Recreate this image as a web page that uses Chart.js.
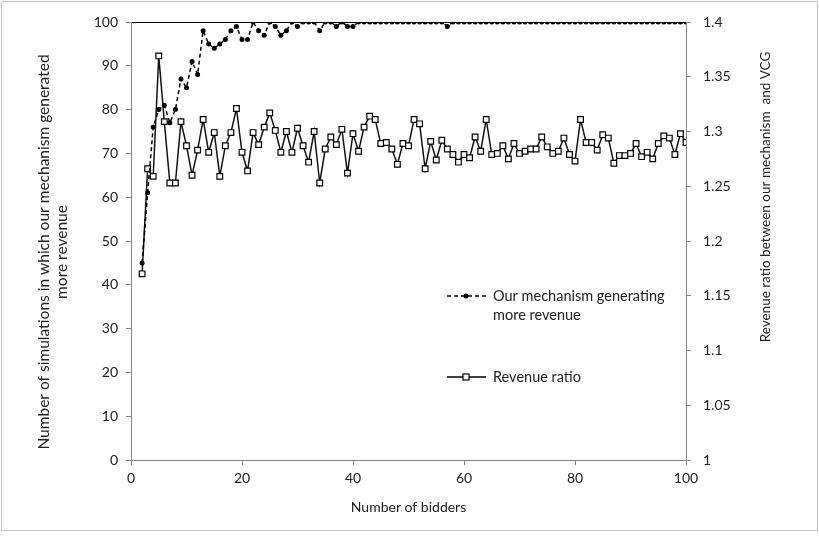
<!DOCTYPE html>
<html>
<head>
<meta charset="utf-8">
<title>Revenue comparison</title>
<script src="https://cdn.jsdelivr.net/npm/chart.js@4.4.0/dist/chart.umd.min.js"></script>
<style>
  html, body { margin: 0; padding: 0; background: #fff; }
  #wrap { width: 819px; height: 538px; }
</style>
</head>
<body>
<div id="wrap"><canvas id="chart" width="819" height="538"></canvas></div>
<script>
// number of bidders (x)
const bidders = [
  2, 3, 4, 5, 6, 7, 8, 9, 10, 11, 12, 13, 14, 15, 16, 17, 18, 19, 20, 21,
  22, 23, 24, 25, 26, 27, 28, 29, 30, 31, 32, 33, 34, 35, 36, 37, 38, 39, 40, 41,
  42, 43, 44, 45, 46, 47, 48, 49, 50, 51, 52, 53, 54, 55, 56, 57, 58, 59, 60, 61,
  62, 63, 64, 65, 66, 67, 68, 69, 70, 71, 72, 73, 74, 75, 76, 77, 78, 79, 80, 81,
  82, 83, 84, 85, 86, 87, 88, 89, 90, 91, 92, 93, 94, 95, 96, 97, 98, 99, 100
];

// simulations (of 100) where our mechanism made more revenue — left axis
const mechanismPct = [
  45, 61, 76, 80, 81, 77, 80, 87, 85, 91, 88, 98, 95, 94, 95, 96, 98, 99, 96, 96,
  100, 98, 97, 100, 99, 97, 98, 100, 99, 100, 100, 100, 98, 100, 100, 99, 100, 99, 99, 100,
  100, 100, 100, 100, 100, 100, 100, 100, 100, 100, 100, 100, 100, 100, 100, 99, 100, 100, 100, 100,
  100, 100, 100, 100, 100, 100, 100, 100, 100, 100, 100, 100, 100, 100, 100, 100, 100, 100, 100, 100,
  100, 100, 100, 100, 100, 100, 100, 100, 100, 100, 100, 100, 100, 100, 100, 100, 100, 100, 100
];

// revenue ratio our mechanism / VCG — right axis
const revenueRatio = [
  1.170, 1.266, 1.259, 1.369, 1.309, 1.253, 1.253, 1.309, 1.287, 1.260,
  1.283, 1.311, 1.281, 1.299, 1.259, 1.287, 1.299, 1.321, 1.281, 1.264,
  1.299, 1.288, 1.304, 1.317, 1.301, 1.281, 1.300, 1.281, 1.303, 1.287,
  1.272, 1.300, 1.253, 1.284, 1.295, 1.288, 1.302, 1.262, 1.298, 1.282,
  1.304, 1.314, 1.311, 1.289, 1.290, 1.284, 1.270, 1.289, 1.287, 1.311,
  1.307, 1.266, 1.291, 1.274, 1.292, 1.284, 1.279, 1.272, 1.279, 1.276,
  1.295, 1.282, 1.311, 1.279, 1.280, 1.287, 1.275, 1.289, 1.280, 1.282,
  1.284, 1.284, 1.295, 1.286, 1.280, 1.282, 1.294, 1.279, 1.273, 1.311,
  1.290, 1.290, 1.283, 1.297, 1.294, 1.271, 1.278, 1.278, 1.280, 1.289,
  1.277, 1.281, 1.275, 1.289, 1.296, 1.294, 1.279, 1.298, 1.290
];

const xTicks = [0, 20, 40, 60, 80, 100];
const leftTicks = [0, 10, 20, 30, 40, 50, 60, 70, 80, 90, 100];
const rightTicks = [1, 1.05, 1.1, 1.15, 1.2, 1.25, 1.3, 1.35, 1.4];

const xTitle = 'Number of bidders';
const leftTitle = ['Number of simulations in which our mechanism generated', 'more revenue'];
const rightTitle = 'Revenue ratio between our mechanism  and VCG';
const legendMech = ['Our mechanism generating', 'more revenue'];
const legendRatio = 'Revenue ratio';

const FAMILY = 'Lato, "Open Sans", sans-serif';
const FONT = { family: FAMILY, size: 14, lineHeight: 1.3 };
const TEXT = '#222';
const AXIS = '#868686';

const points = ys => bidders.map((x, i) => ({ x, y: ys[i] }));
const setTicks = list => scale => { scale.ticks = list.map(v => ({ value: v })); };

// white background + thin grey outer frame
const frame = {
  id: 'frame',
  beforeDraw(chart) {
    const { ctx, width } = chart;
    ctx.save();
    ctx.fillStyle = '#fff';
    ctx.fillRect(0, 0, width, chart.height);
    ctx.strokeStyle = '#c6c6c6';
    ctx.lineWidth = 1;
    ctx.strokeRect(1.5, 1.5, width - 3, 529);
    ctx.restore();
  }
};

function vText(ctx, text, x, y) {
  ctx.save();
  ctx.translate(x, y);
  ctx.rotate(-Math.PI / 2);
  ctx.textAlign = 'center';
  ctx.fillText(text, 0, 0);
  ctx.restore();
}

// vertical axis titles (both read bottom to top) and the in-plot legend
const extras = {
  id: 'extras',
  afterDraw(chart) {
    const { ctx, chartArea } = chart;
    ctx.save();
    ctx.fillStyle = TEXT;
    ctx.textBaseline = 'middle';

    ctx.font = `15.5px ${FAMILY}`;
    vText(ctx, leftTitle[0], 44, 252);
    vText(ctx, leftTitle[1], 62, 252);

    ctx.font = `13.5px ${FAMILY}`;
    vText(ctx, rightTitle, chartArea.right + 80, 197);

    ctx.font = `14.5px ${FAMILY}`;
    const x0 = 447, x1 = 486, mid = 466, tx = 493;
    // dashed entry
    ctx.strokeStyle = '#000';
    ctx.lineWidth = 1.5;
    ctx.setLineDash([4, 3]);
    ctx.beginPath();
    ctx.moveTo(x0, 296); ctx.lineTo(x1, 296);
    ctx.stroke();
    ctx.setLineDash([]);
    ctx.beginPath();
    ctx.arc(mid, 296, 2.5, 0, Math.PI * 2);
    ctx.fillStyle = '#000';
    ctx.fill();
    ctx.fillStyle = TEXT;
    ctx.textAlign = 'left';
    ctx.fillText(legendMech[0], tx, 296);
    ctx.fillText(legendMech[1], tx, 315);

    // solid entry
    ctx.beginPath();
    ctx.moveTo(x0, 377); ctx.lineTo(x1, 377);
    ctx.stroke();
    ctx.fillStyle = '#fff';
    ctx.fillRect(mid - 3, 374, 6, 6);
    ctx.lineWidth = 1.2;
    ctx.strokeRect(mid - 3, 374, 6, 6);
    ctx.fillStyle = TEXT;
    ctx.fillText(legendRatio, tx, 377);
    ctx.restore();
  }
};

new Chart(document.getElementById('chart'), {
  type: 'line',
  data: {
    datasets: [
      {
        label: legendMech.join(' '),
        data: points(mechanismPct),
        yAxisID: 'y',
        borderColor: '#000',
        borderWidth: 1.5,
        borderDash: [4, 3],
        pointStyle: 'circle',
        pointRadius: 2.5,
        pointBackgroundColor: '#000',
        pointBorderWidth: 0,
        tension: 0,
      },
      {
        label: legendRatio,
        data: points(revenueRatio),
        yAxisID: 'y2',
        borderColor: '#111',
        borderWidth: 1.5,
        pointStyle: 'rect',
        pointRadius: 4,
        pointBackgroundColor: '#fff',
        pointBorderColor: '#000',
        pointBorderWidth: 1.2,
        tension: 0,
      },
    ],
  },
  options: {
    responsive: false,
    animation: false,
    layout: { padding: { top: 22, left: 0, right: 0, bottom: 0 } },
    plugins: { legend: { display: false }, tooltip: { enabled: false } },
    scales: {
      x: {
        type: 'linear',
        position: 'bottom',
        min: 0,
        max: 100,
        afterBuildTicks: setTicks(xTicks),
        afterFit: s => { s.height = 78; },
        border: { color: AXIS },
        grid: { drawOnChartArea: false, tickLength: 5, tickColor: AXIS },
        ticks: { font: FONT, color: TEXT, padding: 4, maxRotation: 0, autoSkip: false },
        title: { display: true, text: xTitle, font: FONT, color: TEXT, padding: { top: 0, bottom: 21 } },
      },
      y: {
        position: 'left',
        min: 0,
        max: 100,
        afterBuildTicks: setTicks(leftTicks),
        afterFit: s => { s.width = 131; },
        border: { color: AXIS },
        grid: {
          color: c => (c.tick && c.tick.value === 100 ? '#000' : 'rgba(0,0,0,0)'),
          tickLength: 5,
          tickColor: AXIS,
        },
        ticks: { font: FONT, color: TEXT, padding: 8, autoSkip: false },
      },
      y2: {
        position: 'right',
        min: 1,
        max: 1.4,
        afterBuildTicks: setTicks(rightTicks),
        afterFit: s => { s.width = 133; },
        border: { color: AXIS },
        grid: { drawOnChartArea: false, tickLength: 5, tickColor: AXIS },
        ticks: {
          font: FONT, color: TEXT, padding: 12, autoSkip: false,
          callback: v => String(Number(v.toFixed(2))),
        },
      },
    },
  },
  plugins: [frame, extras],
});
</script>
</body>
</html>
